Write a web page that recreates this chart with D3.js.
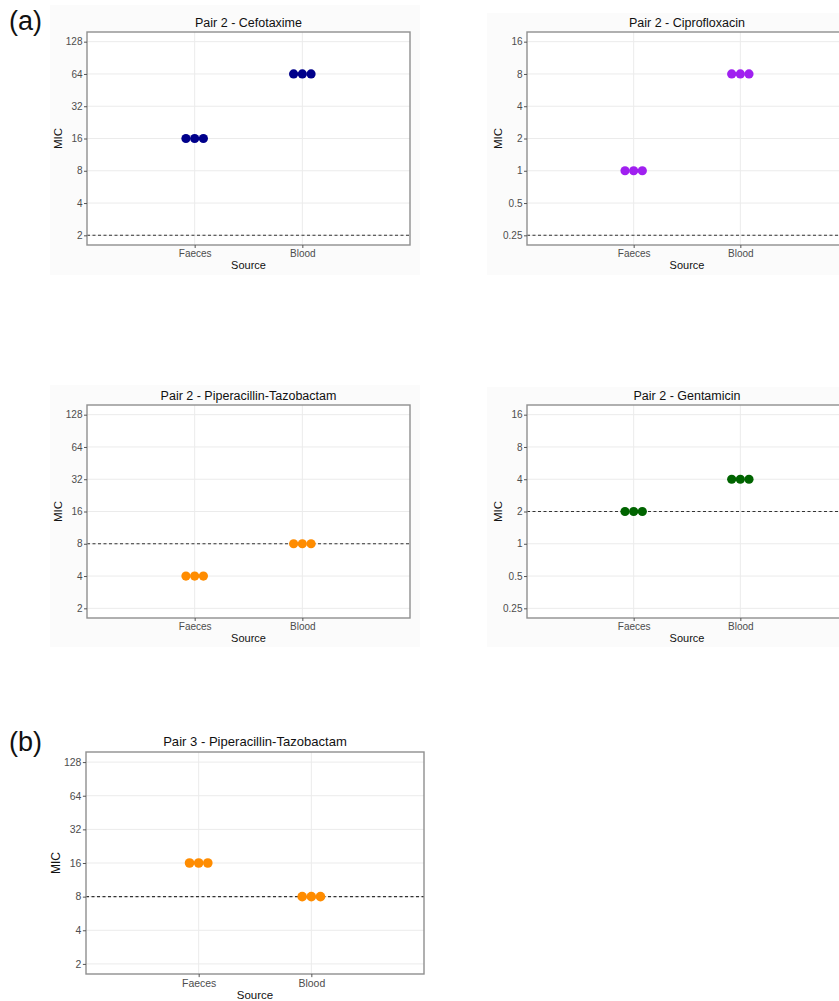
<!DOCTYPE html>
<html>
<head>
<meta charset="utf-8">
<script src="https://cdn.jsdelivr.net/npm/d3@7"></script>
<style>
  html, body { margin: 0; padding: 0; background: #ffffff; }
  svg { display: block; }
  text { font-family: "Liberation Sans", Arial, sans-serif; }
</style>
</head>
<body>
<svg id="chart" width="839" height="1001"></svg>
<script>
// ---------------- DATA ----------------
const sources = ["Faeces", "Blood"];
const panelTitles = [
  "Pair 2 - Cefotaxime",
  "Pair 2 - Ciprofloxacin",
  "Pair 2 - Piperacillin-Tazobactam",
  "Pair 2 - Gentamicin",
  "Pair 3 - Piperacillin-Tazobactam"
];
const faecesMIC = [16, 1, 4, 2, 16];      // each replicate (3 per source)
const bloodMIC  = [64, 8, 8, 4, 8];
const breakpoints = [2, 0.25, 8, 2, 8];
const replicates = [1, 2, 3];
const ticksHigh = [2, 4, 8, 16, 32, 64, 128];
const ticksLow  = [0.25, 0.5, 1, 2, 4, 8, 16];
const panelTicks = [ticksHigh, ticksLow, ticksHigh, ticksLow, ticksHigh];
const pointColors = ["#00008B", "#A020F0", "#FF8C00", "#006400", "#FF8C00"];
const figureLabels = ["(a)", "(b)"];

// ---------------- LAYOUT ----------------
const layout = [
  {x: 87,  y: 32,  w: 323, h: 213, s: 1,     bg: [50, 5, 370, 270]},
  {x: 527, y: 32,  w: 320, h: 213, s: 1,     bg: [487, 13, 360, 262]},
  {x: 87,  y: 405, w: 323, h: 213, s: 1,     bg: [50, 385, 370, 262]},
  {x: 527, y: 405, w: 320, h: 213, s: 1,     bg: [487, 387, 360, 260]},
  {x: 86,  y: 752, w: 338, h: 222, s: 1.046, bg: null}
];
const labelPos = [{x: 9, y: 30}, {x: 9, y: 751}];

const svg = d3.select("#chart");

// faint image backgrounds
layout.forEach(L => {
  if (L.bg) {
    svg.append("rect").attr("x", L.bg[0]).attr("y", L.bg[1])
      .attr("width", L.bg[2]).attr("height", L.bg[3]).attr("fill", "#fbfbfb");
  }
});

figureLabels.forEach((t, i) => {
  svg.append("text").attr("x", labelPos[i].x).attr("y", labelPos[i].y)
    .attr("font-size", 27).attr("fill", "#111").text(t);
});

panelTitles.forEach((title, i) => {
  const L = layout[i];
  const s = L.s;
  const ticks = panelTicks[i];
  const g = svg.append("g").attr("transform", `translate(${L.x},${L.y})`);

  const x = d3.scalePoint().domain(sources).range([0, L.w]).padding(1);
  const lo = d3.min(ticks), hi = d3.max(ticks);
  const y = d3.scaleLog().base(2)
    .domain([lo / Math.pow(2, 0.3), hi * Math.pow(2, 0.3)])
    .range([L.h, 0]);

  // panel background
  g.append("rect").attr("width", L.w).attr("height", L.h).attr("fill", "#ffffff");

  // grid lines
  g.selectAll("line.gy").data(ticks).join("line")
    .attr("x1", 0).attr("x2", L.w)
    .attr("y1", d => y(d)).attr("y2", d => y(d))
    .attr("stroke", "#ebebeb").attr("stroke-width", 1);
  g.selectAll("line.gx").data(sources).join("line")
    .attr("x1", d => x(d)).attr("x2", d => x(d))
    .attr("y1", 0).attr("y2", L.h)
    .attr("stroke", "#ebebeb").attr("stroke-width", 1);

  // breakpoint dashed line
  g.append("line")
    .attr("x1", 0).attr("x2", L.w)
    .attr("y1", y(breakpoints[i])).attr("y2", y(breakpoints[i]))
    .attr("stroke", "#333").attr("stroke-width", 1.1)
    .attr("stroke-dasharray", "3,2.5");

  // points
  const pts = [];
  sources.forEach((src, si) => {
    const v = si === 0 ? faecesMIC[i] : bloodMIC[i];
    replicates.forEach((r, ri) => pts.push({src, v, k: ri - 1}));
  });
  const dodge = x.step() * 0.081;
  g.selectAll("circle").data(pts).join("circle")
    .attr("cx", d => x(d.src) + d.k * dodge)
    .attr("cy", d => y(d.v))
    .attr("r", 4.6 * s)
    .attr("fill", pointColors[i]);

  // border
  g.append("rect").attr("width", L.w).attr("height", L.h)
    .attr("fill", "none").attr("stroke", "#8f8f8f").attr("stroke-width", 1.4);

  // y axis
  const ya = g.append("g").call(
    d3.axisLeft(y).tickValues(ticks).tickFormat(d => String(d)).tickSize(3 * s).tickPadding(1.5)
  );
  ya.select(".domain").remove();
  ya.selectAll(".tick line").attr("stroke", "#555");
  ya.selectAll(".tick text").attr("font-size", 10 * s).attr("fill", "#4d4d4d")
    .style("font-family", '"Liberation Sans", Arial, sans-serif');

  // x axis
  const xa = g.append("g").attr("transform", `translate(0,${L.h})`).call(
    d3.axisBottom(x).tickSize(3 * s).tickPadding(2)
  );
  xa.select(".domain").remove();
  xa.selectAll(".tick line").attr("stroke", "#555");
  xa.selectAll(".tick text").attr("font-size", 10 * s).attr("fill", "#4d4d4d")
    .style("font-family", '"Liberation Sans", Arial, sans-serif');

  // title
  g.append("text").attr("x", L.w / 2).attr("y", -5.5 * s)
    .attr("text-anchor", "middle").attr("font-size", 12.5 * s).attr("fill", "#111")
    .text(title);

  // axis titles
  g.append("text").attr("x", L.w / 2).attr("y", L.h + 24 * s)
    .attr("text-anchor", "middle").attr("font-size", 11 * s).attr("fill", "#111")
    .text("Source");
  g.append("text").attr("transform", "rotate(-90)")
    .attr("x", -L.h / 2).attr("y", -25 * s)
    .attr("text-anchor", "middle").attr("font-size", 11.5 * s).attr("fill", "#111")
    .text("MIC");
});
</script>
</body>
</html>
